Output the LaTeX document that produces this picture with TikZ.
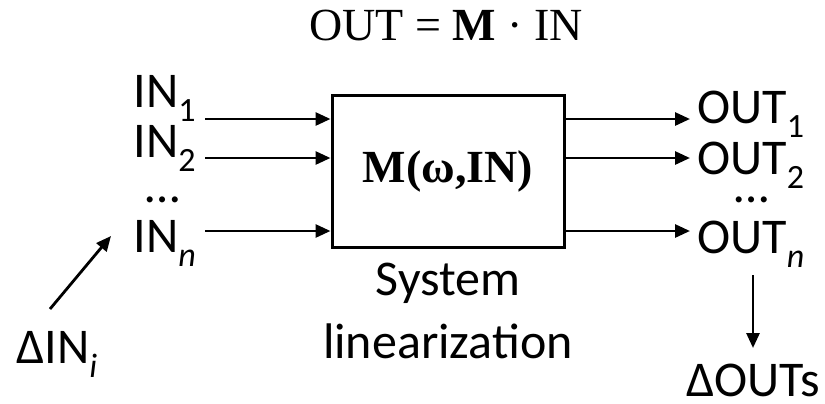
\documentclass[tikz,border=0pt]{standalone}
\usepackage{fontspec}
\setmainfont{Carlito}
\newfontfamily\serifbox{Liberation Serif}
\usetikzlibrary{arrows.meta, positioning}
\newcommand{\lowsub}[1]{\raisebox{-7pt}{\fontsize{17}{17}\selectfont #1}}

\begin{document}
\begin{tikzpicture}[
    x=0.5pt, y=-0.5pt,
    label/.style={inner sep=0pt, anchor=base west, font=\fontsize{25}{25}\selectfont},
    system/.style={rectangle, draw=black, line width=1.5pt, minimum width=116pt, minimum height=76pt, inner sep=0pt, font=\fontsize{23}{23}\selectfont\serifbox\bfseries},
    arrow/.style={-{Triangle[length=7.5pt, width=6.5pt]}, line width=1.4pt, color=black}
]
\useasboundingbox (0,0) rectangle (825,403);
\node[inner sep=0pt, anchor=base, font=\fontsize{23}{23}\selectfont\serifbox] (title) at (446,40) {OUT = \textbf{M} · IN};
\node[system] (sys) at (448,171) {M(ω,IN)};
\node[inner sep=0pt, anchor=base, align=center, font=\fontsize{25}{31.5}\selectfont] (lin) at (448,358) {System\\linearization};
% inputs
\node[label] (in1) at (133,107) {IN\lowsub{1}};
\node[label] (in2) at (133,157) {IN\lowsub{2}};
\node[label, anchor=base] (indots) at (163,202) {…};
\node[label] (inn) at (133,252) {IN\lowsub{\textit{n}}};
\coordinate (a1) at (205,119);
\coordinate (a2) at (205,158);
\coordinate (an) at (205,231);
\draw[arrow] (a1) -- (a1 -| sys.west);
\draw[arrow] (a2) -- (a2 -| sys.west);
\draw[arrow] (an) -- (an -| sys.west);
% outputs
\node[label] (out1) at (697,123) {OUT\lowsub{1}};
\node[label] (out2) at (697,174) {OUT\lowsub{2}};
\node[label, anchor=base] (outdots) at (752,202) {…};
\node[label] (outn) at (697,253) {OUT\lowsub{\textit{n}}};
\coordinate (b1) at (690,119);
\coordinate (b2) at (690,158);
\coordinate (bn) at (690,231);
\draw[arrow] (b1 -| sys.east) -- (b1);
\draw[arrow] (b2 -| sys.east) -- (b2);
\draw[arrow] (bn -| sys.east) -- (bn);
% perturbations
\node[label] (din) at (16,363) {ΔIN\lowsub{\textit{i}}};
\coordinate (dinfrom) at (50,309);
\coordinate (dinto) at (111,236);
\draw[arrow] (dinfrom) -- (dinto);
\node[label] (dout) at (686,396) {ΔOUTs};
\coordinate (doutfrom) at (753,275);
\coordinate (doutto) at (753,348);
\draw[arrow] (doutfrom) -- (doutto);
\end{tikzpicture}
\end{document}
